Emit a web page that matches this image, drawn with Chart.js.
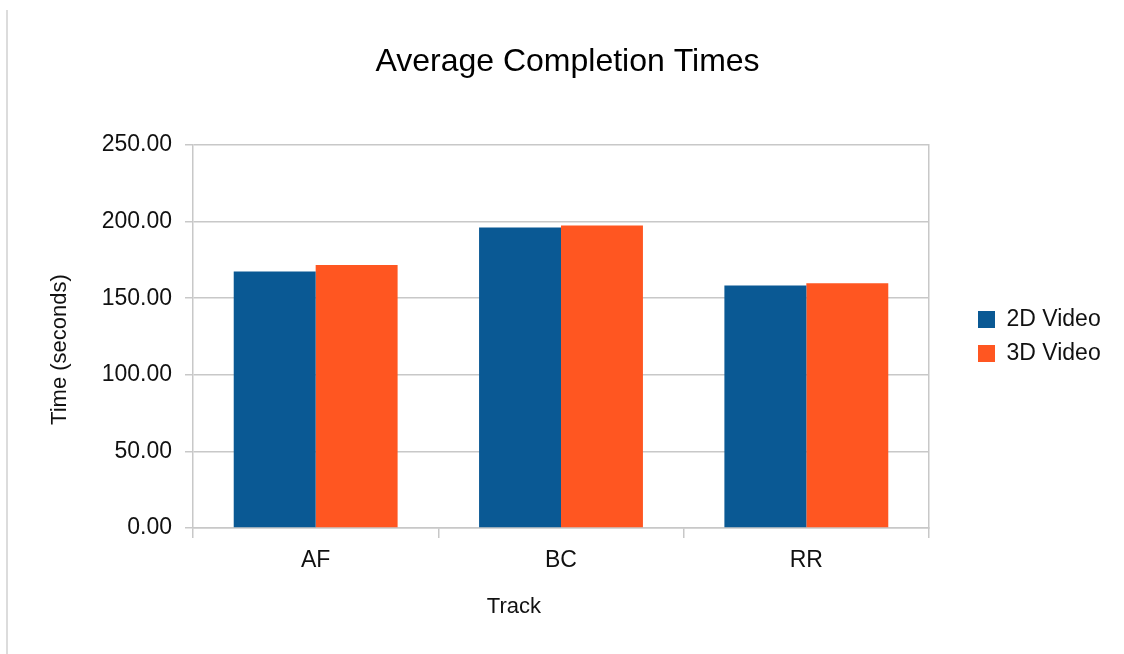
<!DOCTYPE html>
<html>
<head>
<meta charset="utf-8">
<title>Average Completion Times</title>
<script src="https://cdn.jsdelivr.net/npm/chart.js@4/dist/chart.umd.min.js"></script>
<style>
  html, body { margin: 0; padding: 0; background: #ffffff; }
  #wrap { position: relative; width: 1124px; height: 654px; }
  #edge { position: absolute; left: 6px; top: 10px; height: 644px; border-left: 2px solid #dcdcdc; }
  canvas { position: absolute; left: 0; top: 0; }
</style>
</head>
<body>
<div id="wrap">
  <div id="edge"></div>
  <canvas id="chart" width="1124" height="654"></canvas>
</div>
<script>
// Tracks and mean completion time per viewing mode (seconds)
const tracks = ['AF', 'BC', 'RR'];
const video2D = [167.4, 196.1, 158.3];
const video3D = [171.7, 197.4, 159.8];
const seriesNames = ['2D Video', '3D Video'];
const yTicks = [0, 50, 100, 150, 200, 250];

const FONT = "'Liberation Sans', Arial, Helvetica, sans-serif";
const GRID = '#c8c8c8';

// Axis titles placed relative to the plot area
const axisTitles = {
  id: 'axisTitles',
  afterDraw(chart) {
    const { ctx, chartArea } = chart;
    ctx.save();
    ctx.fillStyle = '#111';
    ctx.font = '22px ' + FONT;
    ctx.textAlign = 'center';
    ctx.textBaseline = 'middle';
    const w = chartArea.right - chartArea.left;
    ctx.fillText('Track', chartArea.left + w * 0.436, chartArea.bottom + 79);
    ctx.translate(chartArea.left - 133, (chartArea.top + chartArea.bottom) / 2 + 13);
    ctx.rotate(-Math.PI / 2);
    ctx.fillText('Time (seconds)', 0, 0);
    ctx.restore();
  }
};

new Chart(document.getElementById('chart'), {
  type: 'bar',
  data: {
    labels: tracks,
    datasets: [
      { label: seriesNames[0], data: video2D, backgroundColor: '#0a5994', borderWidth: 0 },
      { label: seriesNames[1], data: video3D, backgroundColor: '#ff5621', borderWidth: 0 }
    ]
  },
  options: {
    responsive: false,
    animation: false,
    layout: { padding: { left: 28, right: 17, top: 0, bottom: 0 } },
    datasets: { bar: { categoryPercentage: 0.668, barPercentage: 1.0 } },
    plugins: {
      title: {
        display: true,
        text: 'Average Completion Times',
        color: '#000',
        font: { family: FONT, size: 32, weight: 'normal' },
        padding: { top: 42.5, bottom: 64.1 }
      },
      legend: {
        position: 'right',
        fullSize: false,
        maxWidth: 140,
        labels: {
          color: '#111',
          font: { family: FONT, size: 23 },
          boxWidth: 17,
          boxHeight: 17,
          padding: 11
        }
      },
      tooltip: { enabled: false }
    },
    scales: {
      x: {
        grid: { display: true, drawOnChartArea: false, drawTicks: true, tickLength: 10, color: GRID, lineWidth: 1.5 },
        border: { display: true, color: GRID, width: 1.5 },
        ticks: { color: '#111', font: { family: FONT, size: 23 }, padding: 9 },
        afterFit(scale) { scale.height = 126; }
      },
      y: {
        min: 0,
        max: 250,
        afterBuildTicks(scale) { scale.ticks = yTicks.map(v => ({ value: v })); },
        grid: { color: GRID, lineWidth: 1.5, tickLength: 8 },
        border: { display: true, color: GRID, width: 1.5 },
        ticks: {
          color: '#111',
          font: { family: FONT, size: 23 },
          padding: 13,
          callback: v => Number(v).toFixed(2)
        },
        afterFit(scale) { scale.width = 165; }
      },
      yRight: {
        position: 'right',
        min: 0,
        max: 250,
        grid: { display: true, drawOnChartArea: false, drawTicks: false },
        border: { display: true, color: GRID, width: 1.5 },
        ticks: { display: false },
        afterFit(scale) { scale.width = 38; }
      }
    }
  },
  plugins: [axisTitles]
});
</script>
</body>
</html>
